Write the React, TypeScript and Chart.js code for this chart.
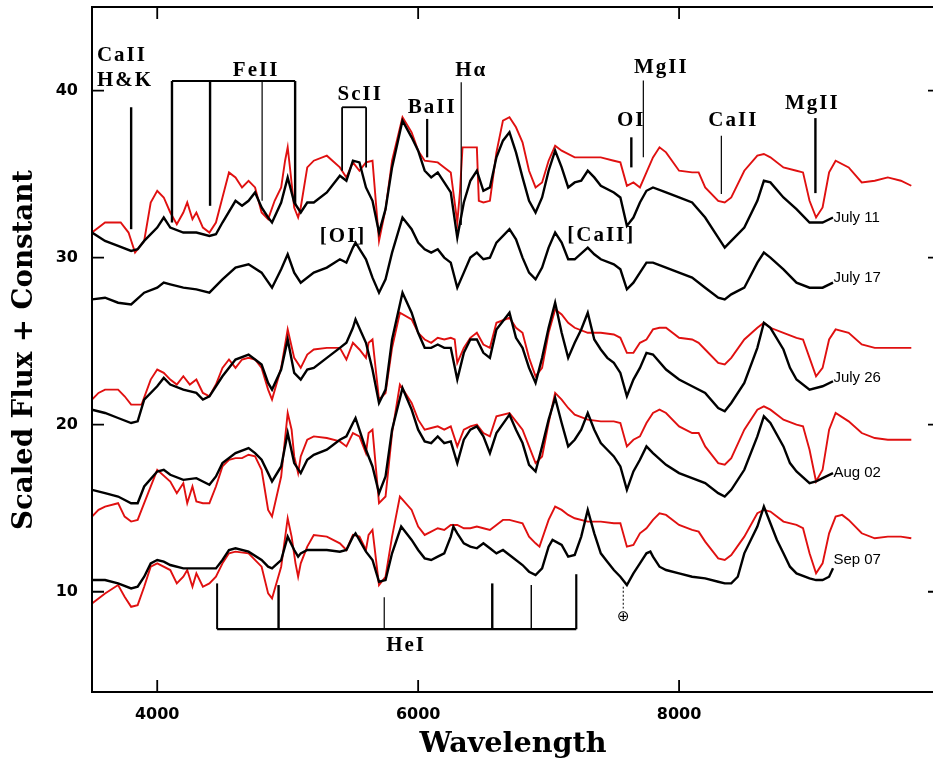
import React, { useEffect, useRef } from 'react';
import { Chart, registerables } from 'chart.js';
Chart.register(...registerables);

type P = [number, number];

// ---- Spectra: [wavelength (Å), scaled flux + constant] ----
const JUL11_OBS: P[] = [[3500,31.5],[3600,31.0],[3700,30.7],[3800,30.4],[3850,30.5],[3900,31.0],[4000,31.8],[4050,32.4],[4100,31.8],[4200,31.5],[4300,31.5],[4400,31.3],[4450,31.4],[4500,32.1],[4600,33.4],[4650,33.1],[4700,33.4],[4750,33.9],[4800,33.0],[4850,32.4],[4880,32.1],[4950,33.3],[5000,34.8],[5050,33.3],[5100,32.7],[5150,33.3],[5200,33.3],[5300,33.9],[5400,34.9],[5450,34.6],[5500,35.8],[5550,35.7],[5600,34.2],[5650,33.4],[5700,31.5],[5750,32.9],[5800,35.4],[5880,38.2],[5950,37.2],[6000,36.4],[6050,35.2],[6100,34.8],[6150,35.1],[6200,34.5],[6250,33.9],[6300,31.2],[6350,33.3],[6400,34.6],[6450,35.2],[6500,34.0],[6550,34.2],[6600,36.0],[6650,37.0],[6700,37.5],[6750,36.3],[6800,34.8],[6850,33.4],[6900,32.7],[6950,33.6],[7000,35.2],[7050,36.4],[7100,35.4],[7150,34.2],[7200,34.5],[7250,34.6],[7300,35.2],[7350,34.8],[7400,34.3],[7500,33.9],[7550,33.6],[7600,31.9],[7650,32.4],[7700,33.3],[7750,34.0],[7800,34.2],[7900,33.9],[8000,33.6],[8100,33.3],[8200,32.4],[8300,31.2],[8350,30.6],[8400,31.0],[8500,31.8],[8600,33.4],[8650,34.6],[8700,34.5],[8800,33.6],[8900,32.9],[9000,32.1],[9100,32.1],[9180,32.4]];
const JUL11_MODEL: P[] = [[3500,31.5],[3550,31.8],[3600,32.1],[3720,32.1],[3780,31.5],[3830,30.3],[3900,31.0],[3950,33.3],[4000,34.0],[4050,33.6],[4100,32.7],[4150,32.0],[4200,32.7],[4230,33.3],[4270,32.3],[4300,32.7],[4350,31.8],[4400,31.5],[4450,32.1],[4500,33.6],[4550,35.1],[4600,34.8],[4650,34.2],[4700,34.6],[4750,34.2],[4800,32.7],[4850,32.3],[4900,33.4],[4950,34.2],[4980,35.8],[5000,36.6],[5020,35.2],[5050,33.0],[5080,32.4],[5100,33.0],[5150,35.4],[5200,35.8],[5300,36.1],[5400,35.4],[5450,34.8],[5500,35.7],[5550,35.2],[5600,35.7],[5650,35.8],[5700,31.0],[5750,32.9],[5800,35.8],[5880,38.4],[5950,37.5],[6000,36.4],[6050,35.8],[6150,35.7],[6200,35.4],[6250,35.1],[6300,32.1],[6320,33.9],[6340,36.6],[6450,36.6],[6465,33.4],[6500,33.3],[6550,33.4],[6600,36.3],[6650,38.2],[6700,38.4],[6750,37.8],[6800,36.9],[6850,35.2],[6900,34.2],[6950,34.5],[7000,35.8],[7050,36.7],[7100,36.4],[7200,36.0],[7400,36.0],[7500,35.8],[7550,35.7],[7600,34.3],[7650,34.5],[7700,34.2],[7750,35.1],[7800,36.0],[7850,36.6],[7900,36.3],[8000,35.2],[8100,35.1],[8150,35.1],[8200,34.2],[8300,33.4],[8350,33.3],[8400,33.6],[8500,35.2],[8600,36.1],[8650,36.2],[8700,36.0],[8800,35.4],[8900,35.2],[8950,35.1],[9000,33.4],[9050,32.4],[9100,33.0],[9150,35.1],[9200,35.8],[9300,35.4],[9400,34.5],[9500,34.6],[9600,34.8],[9700,34.6],[9780,34.3]];
const JUL17_OBS: P[] = [[3500,27.5],[3600,27.6],[3700,27.3],[3800,27.2],[3900,27.9],[4000,28.2],[4050,28.5],[4100,28.4],[4200,28.2],[4300,28.1],[4400,27.9],[4500,28.7],[4600,29.4],[4700,29.6],[4800,29.1],[4880,28.2],[4950,29.3],[5000,30.2],[5050,29.1],[5100,28.5],[5200,29.1],[5300,29.4],[5400,29.9],[5450,29.7],[5500,30.6],[5520,30.9],[5600,29.9],[5650,28.8],[5700,27.9],[5750,28.7],[5800,30.3],[5880,32.4],[5950,31.7],[6000,30.9],[6050,30.5],[6100,30.3],[6150,30.5],[6200,30.0],[6250,29.7],[6300,28.2],[6350,29.1],[6400,30.0],[6450,30.3],[6500,29.9],[6550,30.0],[6600,30.9],[6700,31.7],[6750,31.1],[6800,30.0],[6850,29.1],[6900,28.7],[6950,29.4],[7000,30.6],[7050,31.5],[7100,30.9],[7150,29.9],[7200,29.9],[7300,30.6],[7350,30.2],[7400,29.9],[7500,29.6],[7550,29.3],[7600,28.1],[7650,28.5],[7700,29.1],[7750,29.7],[7800,29.7],[7900,29.4],[8000,29.1],[8100,28.8],[8200,28.2],[8300,27.6],[8350,27.5],[8400,27.8],[8500,28.2],[8600,29.7],[8650,30.3],[8700,30.0],[8800,29.3],[8900,28.5],[9000,28.2],[9100,28.2],[9180,28.5]];
const JUL26_OBS: P[] = [[3500,20.9],[3600,20.7],[3700,20.4],[3800,20.1],[3850,20.2],[3900,21.5],[4000,22.3],[4050,22.8],[4100,22.4],[4200,22.1],[4300,21.9],[4350,21.5],[4400,21.7],[4500,22.9],[4600,23.9],[4700,24.2],[4750,23.9],[4800,23.6],[4850,22.5],[4880,22.1],[4950,23.3],[5000,25.1],[5050,23.1],[5100,22.7],[5150,23.3],[5200,23.4],[5300,24.0],[5400,24.6],[5450,24.9],[5500,25.8],[5520,26.3],[5600,24.9],[5650,23.3],[5700,21.3],[5750,22.1],[5800,25.1],[5880,27.9],[5950,26.7],[6000,25.5],[6050,24.6],[6100,24.6],[6150,24.8],[6200,24.6],[6250,24.6],[6300,22.7],[6350,24.3],[6400,25.1],[6450,25.1],[6500,24.3],[6550,24.0],[6600,25.7],[6700,26.7],[6750,25.2],[6800,24.6],[6850,23.4],[6900,22.5],[6950,24.0],[7000,25.8],[7050,27.3],[7100,25.5],[7150,24.0],[7200,24.9],[7250,25.7],[7300,26.7],[7350,25.1],[7400,24.5],[7450,24.0],[7500,23.7],[7550,23.1],[7600,21.7],[7650,22.7],[7700,23.4],[7750,24.3],[7800,24.2],[7900,23.3],[8000,22.7],[8100,22.3],[8200,21.9],[8300,21.0],[8350,20.8],[8400,21.3],[8500,22.5],[8600,24.6],[8650,26.1],[8700,25.8],[8800,24.5],[8850,23.4],[8900,22.7],[9000,22.1],[9100,22.3],[9180,22.6]];
const JUL26_MODEL: P[] = [[3500,21.5],[3550,21.9],[3600,22.1],[3700,22.1],[3750,21.7],[3800,21.2],[3880,21.2],[3950,22.7],[4000,23.3],[4050,23.1],[4100,22.7],[4150,22.4],[4200,22.9],[4250,22.4],[4300,22.7],[4350,21.9],[4400,21.7],[4450,22.4],[4500,23.4],[4550,23.9],[4600,23.4],[4650,23.9],[4700,24.0],[4750,23.9],[4800,23.4],[4850,22.1],[4880,21.5],[4950,23.4],[5000,25.7],[5050,24.0],[5100,23.4],[5150,24.2],[5200,24.5],[5300,24.6],[5400,24.6],[5450,23.9],[5500,24.9],[5550,24.5],[5600,24.0],[5620,24.9],[5650,25.1],[5700,21.5],[5750,21.9],[5800,24.6],[5860,26.7],[5950,26.3],[6000,25.5],[6050,25.1],[6100,24.9],[6150,25.2],[6200,25.1],[6250,25.2],[6280,25.1],[6300,23.7],[6350,24.6],[6400,25.2],[6450,25.5],[6500,24.8],[6550,24.6],[6600,26.1],[6700,26.4],[6750,25.8],[6800,25.5],[6850,24.0],[6900,22.9],[6950,23.4],[7000,25.5],[7050,26.9],[7100,26.6],[7150,26.1],[7200,25.8],[7300,25.5],[7400,25.5],[7500,25.4],[7550,25.2],[7600,24.3],[7650,24.3],[7700,24.9],[7750,25.1],[7800,25.7],[7850,25.8],[7900,25.8],[8000,25.2],[8100,25.1],[8150,24.9],[8200,24.5],[8300,23.7],[8350,23.6],[8400,24.0],[8500,25.1],[8600,25.8],[8650,26.1],[8700,25.8],[8800,25.5],[8900,25.2],[8950,25.1],[9000,24.0],[9050,22.9],[9100,23.4],[9150,25.1],[9200,25.7],[9300,25.5],[9400,24.8],[9500,24.6],[9600,24.6],[9700,24.6],[9780,24.6]];
const AUG02_OBS: P[] = [[3500,16.1],[3600,15.9],[3700,15.7],[3800,15.3],[3850,15.3],[3900,16.3],[4000,17.2],[4050,17.3],[4100,17.0],[4200,16.7],[4300,16.8],[4350,16.6],[4400,16.4],[4450,16.9],[4500,17.7],[4600,18.3],[4700,18.6],[4750,18.3],[4800,17.9],[4850,17.1],[4880,16.6],[4950,17.5],[5000,19.5],[5050,17.7],[5100,17.1],[5150,17.9],[5200,18.2],[5300,18.5],[5400,19.1],[5450,19.3],[5500,20.1],[5520,20.4],[5600,18.5],[5650,17.5],[5700,15.9],[5750,16.9],[5800,19.7],[5880,22.2],[5950,20.9],[6000,19.7],[6050,19.0],[6100,18.9],[6150,19.3],[6200,18.9],[6250,19.0],[6300,17.7],[6350,19.1],[6400,19.7],[6450,19.9],[6500,19.3],[6550,18.3],[6600,19.5],[6700,20.6],[6750,19.7],[6800,18.9],[6850,17.6],[6900,17.2],[6950,18.7],[7000,20.3],[7050,21.6],[7100,20.1],[7150,18.7],[7200,19.1],[7250,19.7],[7300,20.7],[7350,19.7],[7400,18.9],[7450,18.5],[7500,18.1],[7550,17.5],[7600,16.1],[7650,17.2],[7700,17.9],[7750,18.7],[7800,18.3],[7900,17.6],[8000,17.1],[8100,16.8],[8200,16.5],[8300,15.9],[8350,15.7],[8400,16.1],[8500,17.3],[8600,19.3],[8650,20.5],[8700,20.1],[8800,18.7],[8850,17.7],[8900,17.2],[9000,16.5],[9050,16.6],[9100,16.8],[9180,17.1]];
const AUG02_MODEL: P[] = [[3500,14.5],[3550,14.9],[3600,15.1],[3700,15.3],[3750,14.5],[3800,14.2],[3850,14.3],[3900,15.3],[4000,17.3],[4100,16.6],[4150,15.9],[4200,16.5],[4230,15.3],[4270,16.3],[4300,15.4],[4350,15.3],[4400,15.3],[4450,16.3],[4500,17.5],[4550,17.9],[4600,18.0],[4650,18.0],[4700,18.2],[4750,18.1],[4800,17.3],[4850,14.9],[4880,14.5],[4950,16.9],[5000,20.7],[5030,19.7],[5050,18.1],[5080,17.1],[5100,18.1],[5150,19.1],[5200,19.3],[5300,19.2],[5400,19.0],[5450,18.7],[5500,19.5],[5550,19.3],[5600,18.3],[5620,19.5],[5650,19.7],[5700,15.3],[5750,15.7],[5800,19.5],[5860,22.4],[5950,21.3],[6000,20.3],[6050,19.7],[6100,19.8],[6150,19.9],[6200,19.7],[6250,19.9],[6300,18.7],[6350,19.7],[6400,19.9],[6450,20.0],[6500,19.5],[6550,19.3],[6600,20.5],[6700,20.7],[6750,20.2],[6800,19.7],[6850,18.7],[6900,17.7],[6950,18.1],[7000,20.1],[7050,21.9],[7100,21.5],[7150,21.0],[7200,20.6],[7300,20.3],[7400,20.2],[7500,20.2],[7550,20.1],[7600,18.7],[7650,19.1],[7700,19.3],[7750,20.1],[7800,20.7],[7850,20.9],[7900,20.7],[8000,19.9],[8100,19.5],[8150,19.5],[8200,18.7],[8300,17.7],[8350,17.6],[8400,18.0],[8500,19.7],[8600,20.9],[8650,21.1],[8700,20.9],[8800,20.3],[8900,20.0],[8950,19.9],[9000,18.5],[9050,16.6],[9100,17.3],[9150,19.7],[9200,20.7],[9300,20.2],[9400,19.5],[9500,19.2],[9600,19.1],[9700,19.1],[9780,19.1]];
const SEP07_OBS: P[] = [[3500,10.7],[3600,10.7],[3700,10.5],[3800,10.2],[3850,10.3],[3900,10.9],[3950,11.7],[4000,11.9],[4050,11.8],[4100,11.6],[4200,11.4],[4300,11.4],[4400,11.4],[4450,11.4],[4500,11.9],[4550,12.5],[4600,12.6],[4700,12.4],[4800,11.9],[4850,11.5],[4880,11.4],[4950,11.9],[5000,13.3],[5050,12.5],[5080,12.1],[5100,12.3],[5150,12.5],[5200,12.5],[5300,12.5],[5400,12.4],[5450,12.5],[5500,13.3],[5520,13.5],[5600,12.4],[5650,11.9],[5700,10.6],[5750,10.7],[5800,12.3],[5870,13.9],[5950,13.1],[6000,12.5],[6050,12.0],[6100,11.9],[6150,12.1],[6200,12.3],[6250,13.3],[6270,13.9],[6300,13.5],[6350,12.9],[6400,12.7],[6450,12.6],[6500,12.9],[6550,12.6],[6600,12.3],[6650,12.5],[6700,12.2],[6800,11.6],[6850,11.2],[6900,11.0],[6950,11.4],[7000,12.7],[7030,13.1],[7100,12.8],[7150,12.1],[7200,12.2],[7250,13.3],[7300,14.9],[7350,13.5],[7400,12.3],[7450,11.8],[7500,11.3],[7550,10.9],[7600,10.4],[7650,11.1],[7700,11.7],[7750,12.3],[7780,12.4],[7800,12.1],[7850,11.5],[7900,11.3],[8000,11.1],[8100,10.9],[8200,10.8],[8300,10.6],[8350,10.5],[8400,10.5],[8450,10.9],[8500,12.3],[8600,13.9],[8650,15.1],[8700,14.1],[8750,13.1],[8800,12.3],[8850,11.5],[8900,11.1],[9000,10.8],[9050,10.7],[9100,10.7],[9150,10.9],[9180,11.4]];
const SEP07_MODEL: P[] = [[3500,9.3],[3550,9.6],[3600,9.9],[3700,10.4],[3750,9.7],[3800,9.1],[3850,9.2],[3900,10.3],[3950,11.5],[4000,11.7],[4100,11.3],[4150,10.5],[4200,10.9],[4230,11.3],[4270,10.3],[4300,11.1],[4350,10.3],[4400,10.5],[4450,10.9],[4500,11.7],[4550,12.3],[4600,12.4],[4700,12.3],[4800,11.5],[4850,9.9],[4880,9.6],[4950,11.5],[5000,14.4],[5030,13.3],[5060,11.7],[5080,10.9],[5100,11.7],[5150,12.7],[5200,13.4],[5300,13.3],[5400,12.9],[5450,12.5],[5500,13.4],[5550,13.3],[5600,12.5],[5620,13.4],[5650,13.7],[5700,10.4],[5750,10.9],[5800,13.3],[5860,15.7],[5950,14.9],[6000,13.9],[6050,13.4],[6100,13.6],[6150,13.8],[6200,13.7],[6250,14.0],[6300,14.0],[6350,13.8],[6400,13.8],[6450,13.9],[6500,13.8],[6550,13.7],[6600,14.0],[6650,14.3],[6700,14.3],[6750,14.2],[6800,14.1],[6850,13.3],[6900,12.9],[6930,12.7],[7000,14.3],[7050,15.1],[7100,14.9],[7150,14.6],[7200,14.4],[7300,14.2],[7400,14.2],[7500,14.1],[7550,14.1],[7600,12.7],[7650,12.8],[7700,13.5],[7750,13.8],[7800,14.3],[7850,14.7],[7900,14.6],[8000,14.0],[8100,13.7],[8150,13.6],[8200,13.0],[8300,12.0],[8350,11.9],[8400,12.2],[8500,13.3],[8600,14.7],[8650,14.9],[8700,14.8],[8800,14.2],[8900,14.0],[8950,13.8],[9000,12.3],[9050,11.1],[9100,11.7],[9150,13.5],[9200,14.5],[9250,14.6],[9300,14.3],[9400,13.5],[9500,13.2],[9600,13.3],[9700,13.3],[9780,13.2]];

// ---- Epoch labels ----
const EPOCH_NAMES = ['July 11', 'July 17', 'July 26', 'Aug 02', 'Sep 07'];
const EPOCH_FLUX = [32.4, 28.8, 22.8, 17.1, 11.9];
const EPOCH_WAVE = 9183;

// ---- Axis ranges ----
const X_MIN = 3500, X_MAX = 10000, X_STEP = 500;
const Y_MIN = 4, Y_MAX = 45, Y_STEP = 2;
const X_LABELED = [4000, 6000, 8000];
const Y_LABELED = [10, 20, 30, 40];

// ---- Line identifications (data coordinates) ----
const ION_TEXT: [string, number, number, string][] = [
  ['CaII', 3538, 42.1, 'left'], ['H&K', 3538, 40.6, 'left'],
  ['FeII', 4750, 41.2, 'center'], ['ScII', 5548, 39.75, 'center'],
  ['BaII', 6100, 39.0, 'center'], ['H\u03b1', 6399, 41.2, 'center'],
  ['[OI]', 5417, 31.25, 'center'], ['[CaII]', 7396, 31.3, 'center'],
  ['OI', 7626, 38.2, 'center'], ['MgII', 7856, 41.4, 'center'],
  ['CaII', 8408, 38.2, 'center'], ['MgII', 9014, 39.2, 'center'],
  ['HeI', 5900, 6.8, 'center'],
];
// [w1, f1, w2, f2, width]
const ION_SEGS: [number, number, number, number, number][] = [
  [3800, 39.0, 3800, 31.7, 2.4],
  [4113, 40.57, 5057, 40.57, 2.2], [4113, 40.57, 4113, 32.1, 2.4], [4405, 40.57, 4405, 33.1, 2.4],
  [4804, 40.57, 4804, 33.4, 1.2], [5057, 40.57, 5057, 33.2, 2.4],
  [5417, 39.0, 5601, 39.0, 1.8], [5417, 39.0, 5417, 35.2, 1.8], [5601, 39.0, 5601, 35.4, 1.8],
  [6069, 38.3, 6069, 36.0, 2.2], [6330, 40.5, 6330, 31.95, 1.2],
  [7634, 37.2, 7634, 35.4, 2.4], [7726, 40.6, 7726, 36.0, 1.2],
  [8324, 37.3, 8324, 33.8, 1.2], [9045, 38.35, 9045, 33.86, 2.4],
  [4459, 7.76, 7212, 7.76, 2.2], [4459, 10.5, 4459, 7.76, 2.0], [4930, 10.4, 4930, 7.76, 2.4],
  [5740, 9.67, 5740, 7.76, 1.2], [6568, 10.5, 6568, 7.76, 2.4], [6867, 10.4, 6867, 7.76, 1.4],
  [7212, 11.05, 7212, 7.76, 2.2],
];
const TELLURIC = { w: 7572, fTop: 10.3, fBot: 9.0, fSym: 8.47 };

const toXY = (arr: P[]) => arr.map(([x, y]) => ({ x, y }));

const overlay = {
  id: 'overlay',
  afterDatasetsDraw(chart: any) {
    const { ctx, chartArea: a, scales } = chart;
    const xs = scales.x, ys = scales.y;
    const X = (v: number) => xs.getPixelForValue(v);
    const Y = (v: number) => ys.getPixelForValue(v);
    ctx.save();
    ctx.strokeStyle = '#000';
    ctx.fillStyle = '#000';
    // frame
    ctx.lineWidth = 2;
    ctx.beginPath();
    ctx.moveTo(a.right, a.top); ctx.lineTo(a.left, a.top); ctx.lineTo(a.left, a.bottom); ctx.lineTo(a.right, a.bottom); ctx.lineTo(a.right, a.top);
    ctx.stroke();
    // inward ticks
    ctx.lineWidth = 1.8;
    xs.ticks.forEach((t: any) => {
      const px = X(t.value);
      const len = X_LABELED.includes(t.value) ? 12 : 7;
      ctx.beginPath();
      ctx.moveTo(px, a.bottom); ctx.lineTo(px, a.bottom - len);
      ctx.moveTo(px, a.top); ctx.lineTo(px, a.top + len);
      ctx.stroke();
    });
    ys.ticks.forEach((t: any) => {
      if (t.value % Y_STEP !== 0) return;
      const py = Y(t.value);
      const len = Y_LABELED.includes(t.value) ? 12 : 7;
      ctx.beginPath();
      ctx.moveTo(a.left, py); ctx.lineTo(a.left + len, py);
      ctx.moveTo(a.right, py); ctx.lineTo(a.right - len, py);
      ctx.stroke();
    });
    // identification segments
    ION_SEGS.forEach(([w1, f1, w2, f2, lw]) => {
      ctx.lineWidth = lw;
      ctx.beginPath();
      ctx.moveTo(X(w1), Y(f1)); ctx.lineTo(X(w2), Y(f2));
      ctx.stroke();
    });
    // telluric marker
    ctx.lineWidth = 1;
    ctx.setLineDash([2, 2]);
    ctx.beginPath();
    ctx.moveTo(X(TELLURIC.w), Y(TELLURIC.fTop)); ctx.lineTo(X(TELLURIC.w), Y(TELLURIC.fBot));
    ctx.stroke();
    ctx.setLineDash([]);
    ctx.textBaseline = 'middle';
    ctx.textAlign = 'center';
    ctx.font = '15px "DejaVu Sans"';
    ctx.fillText('\u2295', X(TELLURIC.w), Y(TELLURIC.fSym));
    // ion labels
    ctx.font = 'bold 21px "Liberation Serif"';
    (ctx as any).letterSpacing = '2px';
    ION_TEXT.forEach(([s, w, f, al]) => {
      ctx.textAlign = al as CanvasTextAlign;
      ctx.fillText(s, X(w) + (al === 'center' ? 1 : 0), Y(f));
    });
    (ctx as any).letterSpacing = '0px';
    // epoch labels
    ctx.font = '15px "Liberation Sans"';
    ctx.textAlign = 'left';
    EPOCH_NAMES.forEach((n, i) => ctx.fillText(n, X(EPOCH_WAVE), Y(EPOCH_FLUX[i])));
    // axis titles
    ctx.font = 'bold 28px "DejaVu Serif"';
    ctx.textAlign = 'center';
    const t1 = 'Wavelength';
    const w1 = ctx.measureText(t1).width;
    ctx.save();
    ctx.translate(513, 745);
    ctx.scale(187 / w1, 1);
    ctx.fillText(t1, 0, 0);
    ctx.restore();
    const t2 = 'Scaled Flux + Constant';
    const w2 = ctx.measureText(t2).width;
    ctx.save();
    ctx.translate(25, 350);
    ctx.rotate(-Math.PI / 2);
    ctx.scale(360 / w2, 1);
    ctx.fillText(t2, 0, 0);
    ctx.restore();
    ctx.restore();
  },
};

export default function App() {
  const ref = useRef<HTMLCanvasElement>(null);
  useEffect(() => {
    if (!ref.current) return;
    const black = (d: P[]) => ({ data: toXY(d), borderColor: '#000', borderWidth: 2.4, pointRadius: 0, tension: 0, fill: false });
    const red = (d: P[]) => ({ data: toXY(d), borderColor: '#e01010', borderWidth: 1.9, pointRadius: 0, tension: 0, fill: false });
    const chart = new Chart(ref.current, {
      type: 'line',
      data: {
        datasets: [
          black(JUL11_OBS), black(JUL17_OBS), black(JUL26_OBS), black(AUG02_OBS), black(SEP07_OBS),
          red(JUL11_MODEL), red(JUL26_MODEL), red(AUG02_MODEL), red(SEP07_MODEL),
        ],
      },
      options: {
        responsive: false,
        animation: false,
        devicePixelRatio: 1,
        layout: { padding: { top: 7, right: 5, left: 0, bottom: 0 } },
        plugins: { legend: { display: false }, tooltip: { enabled: false } },
        scales: {
          x: {
            type: 'linear', min: X_MIN, max: X_MAX,
            grid: { display: false, drawTicks: false },
            border: { display: false },
            afterFit: (s: any) => { s.height = 69; s.paddingLeft = 0; s.paddingRight = 0; },
            ticks: {
              stepSize: X_STEP, autoSkip: false, maxRotation: 0, padding: 13, color: '#000',
              font: { family: 'DejaVu Sans', size: 16, weight: 'bold' },
              callback: (v: any) => (X_LABELED.includes(Number(v)) ? String(v) : null),
            },
          },
          y: {
            type: 'linear', min: Y_MIN, max: Y_MAX,
            grid: { display: false, drawTicks: false },
            border: { display: false },
            afterFit: (s: any) => { s.width = 92; s.paddingTop = 0; s.paddingBottom = 0; },
            ticks: {
              stepSize: Y_STEP, autoSkip: false, padding: 14, color: '#000',
              font: { family: 'DejaVu Sans', size: 16, weight: 'bold' },
              callback: (v: any) => (Y_LABELED.includes(Number(v)) ? String(v) : null),
            },
          },
        },
      },
      plugins: [overlay],
    } as any);
    return () => chart.destroy();
  }, []);
  return (
    <div style={{ position: 'fixed', left: 0, top: 0, width: 933, height: 761, overflow: 'hidden', background: '#fff' }}>
      <canvas ref={ref} width={945} height={761} style={{ width: 945, height: 761, display: 'block' }} />
    </div>
  );
}
